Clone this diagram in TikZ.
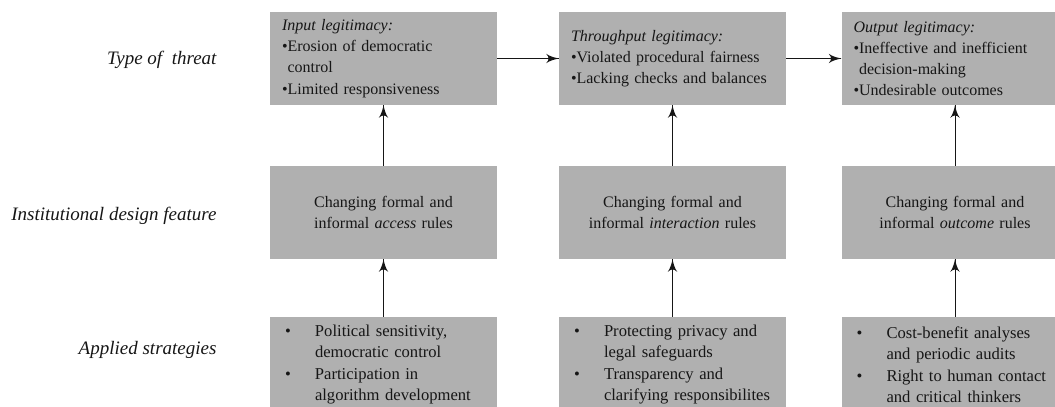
\documentclass[tikz,border=0pt]{standalone}
\usepackage{fontspec}
\setmainfont{Liberation Serif}
\usetikzlibrary{arrows}
\usetikzlibrary{decorations.markings}
\usetikzlibrary{positioning}
\definecolor{boxgray}{RGB}{176,176,176}
\definecolor{inkgray}{RGB}{22,22,22}
\tikzset{flow/.style = {draw=inkgray, line width=0.9pt,
                        decoration={markings,
                                    mark=at position 1 with {\arrow[scale=2.3]{latex'}}},
                        postaction={decorate}}}
\tikzset{box/.style = {fill=boxgray, minimum width=227pt, minimum height=93pt,
                       inner ysep=0pt, text=inkgray,
                       font=\fontsize{16}{21.3}\selectfont}}
\tikzset{threatbox/.style = {box, inner xsep=12pt, text width=203pt, align=left}}
\tikzset{featurebox/.style = {box, inner xsep=12pt, text width=203pt, align=center}}
\tikzset{strategybox/.style = {box, minimum height=95pt, inner xsep=15pt, text width=197pt,
                               align=left, font=\fontsize{16.6}{21.5}\selectfont}}
\tikzset{rowlabel/.style = {anchor=east, text=inkgray, font=\fontsize{19}{23}\selectfont\itshape}}
\newcommand{\bul}{\textbullet}
\newcommand{\bulskip}{\phantom{\textbullet}}
\newcommand{\sitem}{\makebox[30pt][l]{\textbullet}}
\newcommand{\sskip}{\hspace*{30pt}}

\begin{document}
\begin{tikzpicture}[x=1pt, y=-1pt]
    \path [use as bounding box, clip] (0, 0) rectangle (1055, 407);
    % row labels
    \node [rowlabel] (lthreat) at (220, 60) {Type of\ \ threat};
    \node [rowlabel] (lfeature) at (220, 216) {Institutional design feature};
    \node [rowlabel] (lstrategy) at (220, 350) {Applied strategies};
    % type of threat
    \node [threatbox] (threatin) at (383.5, 58.5)
      {\textit{Input legitimacy:}\\
       \bul Erosion of democratic\\
       \bulskip control\\
       \bul Limited responsiveness};
    \node [threatbox] (threatthrough) at (672.5, 58.5)
      {\textit{Throughput legitimacy:}\\
       \bul Violated procedural fairness\\
       \bul Lacking checks and balances};
    \node [threatbox] (threatout) at (955, 58.5)
      {\textit{Output legitimacy:}\\
       \bul Ineffective and inefficient\\
       \bulskip decision-making\\
       \bul Undesirable outcomes};
    % institutional design feature
    \node [featurebox] (featureaccess) at (383.5, 212.5)
      {Changing formal and\\ informal \textit{access} rules};
    \node [featurebox] (featureinteract) at (672.5, 212.5)
      {Changing formal and\\ informal \textit{interaction} rules};
    \node [featurebox] (featureoutcome) at (955, 212.5)
      {Changing formal and\\ informal \textit{outcome} rules};
    % applied strategies
    \node [strategybox] (stratpolitics) at (383.5, 364.5)
      {\sitem Political sensitivity,\\
       \sskip democratic control\\
       \sitem Participation in\\
       \sskip algorithm development};
    \node [strategybox] (stratprivacy) at (672.5, 364.5)
      {\sitem Protecting privacy and\\
       \sskip legal safeguards\\
       \sitem Transparency and\\
       \sskip \mbox{clarifying responsibilites}};
    \node [strategybox] (stratcost) at (955, 364.5)
      {\sitem Cost-benefit analyses\\
       \sskip and periodic audits\\
       \sitem Right to human contact\\
       \sskip and critical thinkers};
    % arrows
    \draw [flow] (threatin) -- (threatthrough);
    \draw [flow] (threatthrough) -- (threatout);
    \draw [flow] (featureaccess) -- (threatin);
    \draw [flow] (featureinteract) -- (threatthrough);
    \draw [flow] (featureoutcome) -- (threatout);
    \draw [flow] (stratpolitics) -- (featureaccess);
    \draw [flow] (stratprivacy) -- (featureinteract);
    \draw [flow] (stratcost) -- (featureoutcome);
  \end{tikzpicture}
\end{document}
